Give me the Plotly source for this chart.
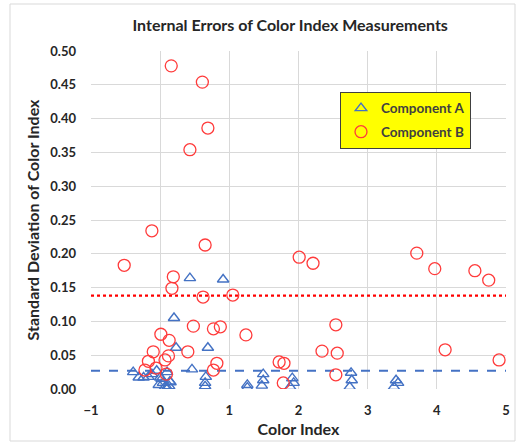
import plotly.graph_objects as go

# Component A (blue triangles)
a_x = [0.43, 0.91, 0.20, 0.23, 0.69, 0.46, -0.39, -0.31, -0.24, -0.17, -0.12, -0.05,
       0.00, 0.04, 0.07, 0.10, 0.13, 0.14, 0.10, -0.02, 0.02, 0.15,
       0.66, 0.65, 0.65, 1.26, 1.26, 1.49, 1.49, 1.47, 1.91, 1.93, 1.88,
       2.76, 2.77, 2.74, 3.41, 3.44, 3.38]
a_y = [0.164, 0.162, 0.105, 0.061, 0.061, 0.029, 0.025, 0.017, 0.017, 0.018, 0.022, 0.027,
       0.017, 0.009, 0.003, 0.002, 0.004, 0.011, 0.025, 0.006, 0.015, 0.010,
       0.018, 0.009, 0.004, 0.006, 0.002, 0.022, 0.013, 0.005, 0.016, 0.009, 0.003,
       0.024, 0.013, 0.003, 0.013, 0.009, 0.003]

# Component B (red circles)
b_x = [0.16, 0.61, 0.69, 0.43, -0.52, -0.12, 0.65, 0.19, 0.17, 0.62, 1.05, 0.48, 0.77,
       0.87, 1.24, 0.01, 0.13, -0.10, 0.40, 0.12, 0.07, -0.17, -0.22, -0.06, 0.09, 0.82,
       0.77, 2.01, 2.21, 2.54, 2.34, 2.56, 2.54, 1.72, 1.79, 1.78, 3.71, 3.97, 4.55, 4.75,
       4.12, 4.90]
b_y = [0.478, 0.454, 0.386, 0.354, 0.183, 0.234, 0.213, 0.166, 0.149, 0.136, 0.139, 0.093,
       0.089, 0.092, 0.080, 0.081, 0.072, 0.055, 0.055, 0.049, 0.043, 0.041, 0.028, 0.031,
       0.022, 0.038, 0.028, 0.195, 0.186, 0.095, 0.056, 0.053, 0.021, 0.040, 0.038, 0.009,
       0.201, 0.178, 0.175, 0.161, 0.058, 0.043]

mean_a = 0.027
mean_b = 0.138
x_range = [-1, 5]

blue = "#4472C4"
red = "#FF3B3B"
font = "Lato, 'Open Sans', sans-serif"

fig = go.Figure()
fig.add_trace(go.Scatter(x=x_range, y=[mean_b, mean_b], mode="lines",
                         line=dict(color="#FF0000", width=2.2, dash="dot"),
                         showlegend=False, hoverinfo="skip"))
fig.add_trace(go.Scatter(x=x_range, y=[mean_a, mean_a], mode="lines",
                         line=dict(color=blue, width=2.2, dash="dash"),
                         showlegend=False, hoverinfo="skip"))
fig.add_trace(go.Scatter(x=a_x, y=a_y, mode="markers", name="<b>Component A</b>",
                         legendgroup="a",
                         marker=dict(symbol="triangle-up-open", size=10, color=blue,
                                     line=dict(width=1.4, color=blue))))
fig.add_trace(go.Scatter(x=b_x, y=b_y, mode="markers", name="<b>Component B</b>",
                         legendgroup="b",
                         marker=dict(symbol="circle-open", size=12, color=red,
                                     line=dict(width=1.3, color=red))))

fig.update_layout(
    width=521, height=446,
    margin=dict(l=91, r=15, t=51, b=57),
    paper_bgcolor="white", plot_bgcolor="white",
    font=dict(family=font, color="#404040"),
    title=dict(text="<b>Internal Errors of Color Index Measurements</b>",
               x=0.557, xanchor="center", y=0.942, yanchor="middle",
               font=dict(size=16, color="#262626", family=font)),
    xaxis=dict(range=x_range, dtick=1, showgrid=True, gridcolor="#D9D9D9", gridwidth=1,
               zeroline=False, showline=False, ticks="", ticklabelstandoff=12,
               tickfont=dict(size=13, color="#262626", family=font),
               tickprefix="<b>", ticksuffix="</b>",
               title=dict(text="<b>Color Index</b>",
                          font=dict(size=16, color="#262626"), standoff=6)),
    yaxis=dict(range=[0, 0.5], dtick=0.05, tickformat=".2f", showgrid=True,
               gridcolor="#D9D9D9", gridwidth=1, zeroline=False, showline=False, ticks="",
               ticklabelstandoff=14,
               tickfont=dict(size=13, color="#262626", family=font),
               tickprefix="<b>", ticksuffix="</b>",
               title=dict(text="<b>Standard Deviation of Color Index</b>",
                          font=dict(size=16, color="#262626"), standoff=6)),
    legend=dict(x=0.6, y=0.879, xanchor="left", yanchor="top",
                bgcolor="#FFFF00", bordercolor="#404040", borderwidth=1,
                font=dict(size=13.5, color="#404040", family=font),
                traceorder="grouped", tracegroupgap=3, itemwidth=30),
    shapes=[dict(type="rect", xref="paper", yref="paper",
                 x0=-81/415, x1=(415 + 9) / 415, y0=-52/338, y1=1 + 47/338,
                 line=dict(color="#D9D9D9", width=1), fillcolor="rgba(0,0,0,0)",
                 layer="below")],
)

fig.write_html("out.html")
